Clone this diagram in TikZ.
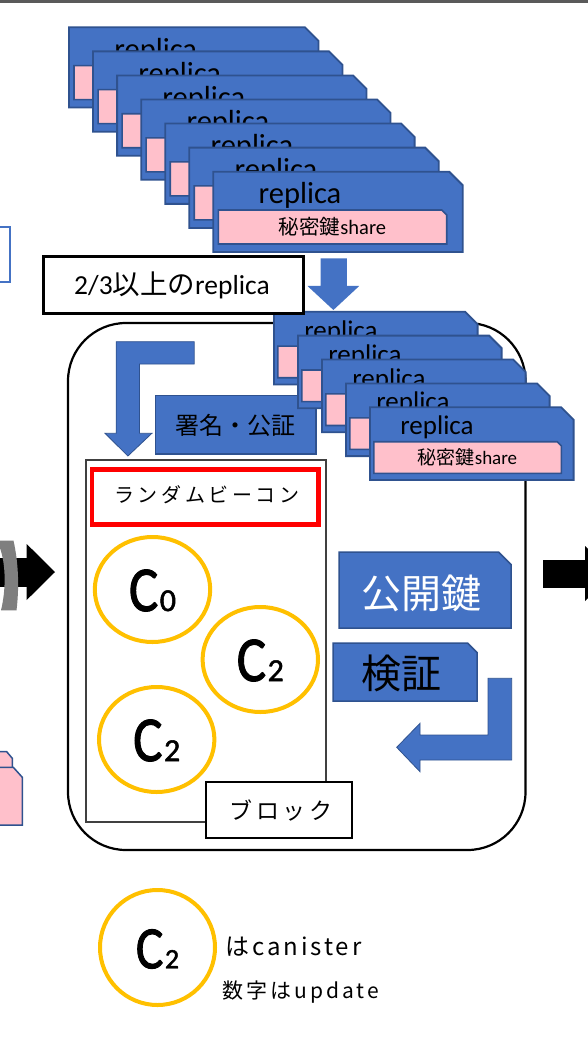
\documentclass[tikz,border=0pt]{standalone}
\usepackage{fontspec}
\setmainfont{Carlito}
\newfontfamily\jp{Noto Sans CJK JP}
\newfontfamily\cfont[FakeBold=1.6]{Carlito}
\newfontfamily\jpsp[LetterSpace=18]{Noto Sans CJK JP}
\newfontfamily\jpspb[LetterSpace=16]{Noto Sans CJK JP}
\newfontfamily\jpla[LetterSpace=12]{Noto Sans CJK JP}
\newfontfamily\jplb[LetterSpace=14]{Noto Sans CJK JP}
\newcommand\myfs[1]{\fontsize{#1}{#1}\selectfont}
\newcommand\canlabel[1]{\cfont\scalebox{0.86}[1]{\myfs{64}C}\kern1.5pt\myfs{32}#1}
\newcommand\canlegend[1]{\cfont\scalebox{0.86}[1]{\myfs{60}C}\kern1.5pt\myfs{28}#1}
\definecolor{cblue}{HTML}{4472C4}
\definecolor{cborder}{HTML}{2F528F}
\definecolor{cpink}{HTML}{FFC0CB}
\definecolor{cgold}{HTML}{FFC000}
\definecolor{cgray}{HTML}{7F7F7F}
\definecolor{cdark}{HTML}{404040}
\definecolor{ctop}{HTML}{5A5A5A}
\tikzset{
  card/.style={fill=cblue, draw=cborder, line width=1.8pt, line join=miter},
  pinkbar/.style={fill=cpink, draw=cborder, line width=1.6pt, line join=miter},
  bluebox/.style={fill=cblue, draw=cborder, line width=1.5pt, line join=miter},
  barrow/.style={fill=cblue, draw=cborder, line width=0.8pt, line join=miter},
  canister/.style={draw=cgold, line width=4pt},
  txt/.style={inner sep=0pt, text=black},
}
% #1 style, #2 x, #3 y, #4 w, #5 h, #6 chamfer
\newcommand\snipbox[6]{%
  \path[#1] (#2,#3) -- ({#2+#4-#6},#3) -- ({#2+#4},{#3+#6}) -- ({#2+#4},{#3+#5}) -- (#2,{#3+#5}) -- cycle;}
\begin{document}
\begin{tikzpicture}[x=1pt,y=-1pt]
\useasboundingbox (0,0) rectangle (588,1056);
\clip (0,0) rectangle (588,1056);
\fill[white] (0,0) rectangle (588,1056);
% top bar
\fill[ctop] (0,0) rectangle (588,3.3);
% left edge fragments
\draw[cblue, line width=2pt, fill=white] (-5,227.5) rectangle (9.7,281.8);
\fill[black] (-5,558.3) rectangle (27.5,586.7);
\fill[black] (26.7,544) -- (55,572) -- (26.7,600) -- cycle;
\fill[cgray] (0,540.7) -- (13.5,540.7) .. controls (19,565) and (19,590) .. (16.5,610.3) -- (1,610.3) .. controls (6,590) and (6,565) .. (0,548) -- cycle;
\path[pinkbar, line width=1.5pt] (-3,751.7) -- (6.7,751.7) -- (12.3,758.3) -- (12.3,772) -- (-3,772) -- cycle;
\path[pinkbar, line width=1.5pt] (-3,767.3) -- (13.3,767.3) -- (22.3,777.3) -- (22.3,825) -- (-3,825) -- cycle;
% right edge arrow
\fill[black] (543,559.5) rectangle (595,587.5);
\fill[black] (585,546) -- (613,573.5) -- (585,601) -- cycle;
% top stack of replicas
\foreach \i in {0,...,6}{
  \pgfmathsetmacro\cx{69+24.05*\i}
  \pgfmathsetmacro\cy{27.3+24.07*\i}
  \snipbox{card}{\cx}{\cy}{249.4}{80.3}{13.5}
  \node[txt, anchor=base, font=\myfs{30.5}] (rep\i) at ({\cx+86.7},{\cy+32}) {replica};
  \snipbox{pinkbar}{\cx+5}{\cy+38.3}{228.4}{34}{5}
  \node[txt, font=\myfs{20.5}] (key\i) at ({\cx+119.2},{\cy+55.3}) {{\jp 秘密鍵}share};
}
% down arrow
\path[fill=cblue] (320.6,258.3) -- (346.8,258.3) -- (346.8,286) -- (359.2,286) -- (333.4,310) -- (307.5,286) -- (320.6,286) -- cycle;
% big rounded frame
\draw[line width=2.2pt, rounded corners=58pt] (68,323) rectangle (525.5,850);
% bent arrow top-left
\path[barrow] (194.2,341.7) -- (116.2,341.7) -- (116.2,433.3) -- (105,433.3) -- (127.9,456) -- (151.9,433.3) -- (139.5,433.3) -- (139.5,364) -- (194.2,364) -- cycle;
% signature box
\path[bluebox] (155.6,395.7) rectangle (316,454);
\node[txt, font=\jp\myfs{24}] (sig) at (235.8,425) {署名・公証};
% inner stack of replicas
\foreach \j in {0,...,4}{
  \pgfmathsetmacro\cx{274+24*\j}
  \pgfmathsetmacro\cy{311.7+23.9*\j}
  \snipbox{card}{\cx}{\cy}{203.6}{72.7}{12.5}
  \node[txt, anchor=base, font=\myfs{27}] (irep\j) at ({\cx+67},{\cy+27.5}) {replica};
  \snipbox{pinkbar}{\cx+3.8}{\cy+34.4}{187.5}{31.6}{4}
  \node[txt, font=\myfs{19}] (ikey\j) at ({\cx+97.5},{\cy+50.2}) {{\jp 秘密鍵}share};
}
% 2/3 box
\draw[line width=3pt, fill=white] (43.5,256.7) rectangle (303.3,313.2);
\node[txt, font=\myfs{27.5}] (thr) at (172,285) {2/3{\jp 以上の}replica};
% block
\draw[cdark, line width=1.5pt] (86,460) rectangle (326,822);
\draw[red, line width=4.5pt] (92.2,469.5) rectangle (318.4,524.5);
\node[txt, font=\jpsp\myfs{20}] (beacon) at (207,495) {ランダムビーコン};
% canisters
\draw[canister] (152.5,589.5) ellipse [x radius=57.7pt, y radius=52.5pt];
\draw[canister] (260.3,659.5) ellipse [x radius=57.7pt, y radius=52.5pt];
\draw[canister] (156.7,739.5) ellipse [x radius=57.7pt, y radius=52.5pt];
\node[txt] (c0) at (152.5,590.5) {\canlabel{0}};
\node[txt] (c2a) at (260.3,660.5) {\canlabel{2}};
\node[txt] (c2b) at (156.7,740.5) {\canlabel{2}};
% block label
\draw[line width=2pt, fill=white] (205.7,781.7) rectangle (351.7,837.7);
\node[txt, font=\jpspb\myfs{23}] (blk) at (281,810) {ブロック};
% public key and verification
\snipbox{bluebox}{339}{552}{172}{76}{12.5}
\node[txt, text=white, font=\jp\myfs{40}] (pub) at (421.5,593) {公開鍵};
\snipbox{bluebox}{333}{643}{144}{58}{9.5}
\node[txt, font=\jp\myfs{40}] (ver) at (401.5,673.5) {検証};
\path[barrow] (488,678.3) -- (511.7,678.3) -- (511.7,760) -- (420,760) -- (420,771.7) -- (396.7,747.3) -- (420,723.3) -- (420,735) -- (488,735) -- cycle;
% legend
\draw[canister] (157.5,947.5) circle [radius=57.5pt];
\node[txt] (cl) at (157.5,949) {\canlegend{2}};
\node[txt, anchor=west, font=\jpla\myfs{24}] (leg1) at (225.5,947) {はcanister};
\node[txt, anchor=west, font=\jplb\myfs{21}] (leg2) at (222.5,992) {数字はupdate};
\end{tikzpicture}
\end{document}
